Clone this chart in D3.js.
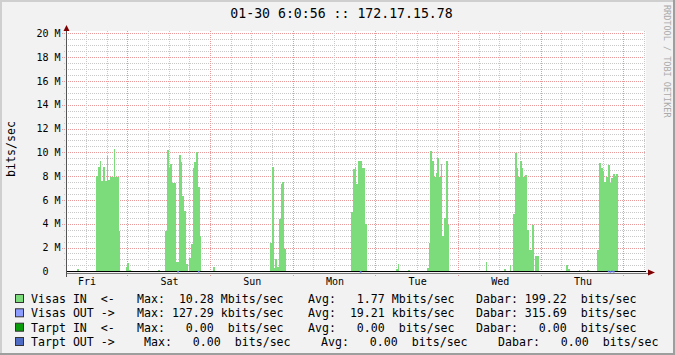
<!DOCTYPE html>
<html>
<head>
<meta charset="utf-8">
<script src="https://cdn.jsdelivr.net/npm/d3@7"></script>
<style>
  body { margin: 0; background: #f2f2f2; }
  text { font-family: "DejaVu Sans Mono", monospace; fill: #000; }
</style>
</head>
<body>
<div id="graph"></div>
<script>
// traffic in Mbit/s, one value per 30 minutes, each row = one day starting Fri 06:30
var visasIn = [
  0,0,0,0,0,0,.2,0,0,0,0,0,0,0,0,0,0,8.0,8.8,9.3,7.6,8.8,7.6,9.7,7.7,7.9,7.9,10.3,7.9,7.9,3.4,0,0,0,.35,.7,.1,0,0,0,0,0,0,0,0,0,0,0,
  0,0,0,0,0,.15,0,0,0,3.4,10.2,8.7,9.0,7.4,7.4,.75,.75,9.8,9.15,6.3,5.1,.6,0,1.1,2.3,8.7,9.15,10.0,7.1,3.0,0,0,0,0,0,0,0,.4,0,0,0,0,0,0,0,0,0,0,
  0,0,0,0,0,0,0,0,0,0,0,0,0,0,0,0,0,0,0,0,0,0,2.4,8.8,.3,1.0,.4,4.4,7.3,7.5,1.9,0,0,0,0,0,0,0,0,0,0,0,0,0,0,0,0,0,
  0,0,0,0,0,0,0,0,0,0,0,0,0,0,0,0,0,0,0,0,0,5.0,8.6,8.8,7.3,9.3,9.3,8.7,8.7,3.95,0,0,0,0,0,0,0,0,0,0,0,0,0,0,0,0,0,.2,
  .6,0,0,0,0,0,.15,0,0,0,0,0,0,0,0,0,0,.25,2.4,10.1,9.3,7.9,8.3,9.5,7.9,9.05,3.0,4.45,9.3,3.9,0,0,0,0,0,0,0,0,0,0,0,0,0,0,0,0,0,0,
  0,0,0,.76,0,0,0,0,0,0,0,0,0,0,.2,0,0,.5,0,4.8,9.95,8.66,7.93,9.27,8.66,7.93,8.1,3.5,1.76,1.8,3.9,0,1.26,1.26,0,0,0,0,0,0,0,0,0,0,0,0,0,0,
  0,0,.5,.2,0,0,0,0,0,.1,0,0,0,0,.1,0,0,0,0,0,1.8,9.1,8.7,8.4,7.5,7.9,8.9,7.4,7.85,8.2,8.0,8.2,0,0,0,0,0,0,0,0,0,0,0,0,0,0,0,0
];
// outgoing is tiny, only the few half hours where it shows
var outBins = [64, 76, 170, 314, 315, 316, 317];
var outKbps = [100, 110, 90, 127, 100, 120, 110];

var dayLabels = ["Fri", "Sat", "Sun", "Mon", "Tue", "Wed", "Thu"];
var yTicks = [0, 2, 4, 6, 8, 10, 12, 14, 16, 18, 20];
var yLabels = ["0  ", "2 M", "4 M", "6 M", "8 M", "10 M", "12 M", "14 M", "16 M", "18 M", "20 M"];

var title = "01-30 6:0:56 :: 172.17.15.78";
var legendNames = ["Visas IN  <-", "Visas OUT ->", "Tarpt IN  <-", "Tarpt OUT ->"];
var legendColors = ["#7cdc7c", "#8c9cff", "#0a9c0a", "#4f6cc4"];
var legendMax = [10.28, 127.29, 0, 0];
var legendMaxUnit = ["M", "k", " ", " "];
var legendAvg = [1.77, 19.21, 0, 0];
var legendAvgUnit = ["M", "k", " ", " "];
var legendNow = [199.22, 315.69, 0, 0];
var legendNowUnit = [" ", " ", " ", " "];

var W = 675, H = 355;
var start = new Date(2009, 0, 23, 6, 30), end = new Date(2009, 0, 30, 6, 30);

var x = d3.scaleTime().domain([start, end]).range([67, 645.7]);
var y = d3.scaleLinear().domain([0, 20]).range([271.3, 33.3]);
var px = function(v){ return Math.round(v) + 0.5; };

var svg = d3.select("#graph").append("svg")
    .attr("width", W).attr("height", H);

// frame
svg.append("rect").attr("width", W).attr("height", H).attr("fill", "#f2f2f2");
svg.append("path").attr("d", "M0,1H675M1,0V355").attr("stroke", "#cfcfcf").attr("stroke-width", 2);
svg.append("path").attr("d", "M0,354H675M674,0V355").attr("stroke", "#9e9e9e").attr("stroke-width", 2);

// canvas
svg.append("rect")
    .attr("x", 67).attr("y", 31)
    .attr("width", x.range()[1] - 67).attr("height", 241)
    .attr("fill", "#fff");

var grid = svg.append("g").attr("shape-rendering", "crispEdges")
    .attr("stroke-width", 1).attr("stroke-dasharray", "1,1");

// horizontal grid
var hMinor = d3.range(0, 20.01, 0.5).filter(function(v){ return v % 2 != 0; });
grid.selectAll("line.hmin").data(hMinor).enter().append("line")
    .attr("x1", 64).attr("x2", 646)
    .attr("y1", function(d){ return px(y(d)); }).attr("y2", function(d){ return px(y(d)); })
    .attr("stroke", "#c8c8c8");
grid.selectAll("line.hmaj").data(yTicks.slice(1)).enter().append("line")
    .attr("x1", 62).attr("x2", 646)
    .attr("y1", function(d){ return px(y(d)); }).attr("y2", function(d){ return px(y(d)); })
    .attr("stroke", "#e89a9a");

// vertical grid, 6h minor, midnight major
var vMinor = d3.timeHour.every(6).range(start, end).filter(function(t){ return t.getHours() != 0; });
var vMajor = d3.timeDay.range(start, end);
grid.selectAll("line.vmin").data(vMinor).enter().append("line")
    .attr("x1", function(d){ return px(x(d)); }).attr("x2", function(d){ return px(x(d)); })
    .attr("y1", 31).attr("y2", 274)
    .attr("stroke", "#c8c8c8");
grid.selectAll("line.vmaj").data(vMajor).enter().append("line")
    .attr("x1", function(d){ return px(x(d)); }).attr("x2", function(d){ return px(x(d)); })
    .attr("y1", 31).attr("y2", 276)
    .attr("stroke", "#e89a9a");

// Visas IN area
var inData = visasIn.map(function(v, i){ return {t: d3.timeMinute.offset(start, 30 * i), v: v}; });
inData.push({t: end, v: 0});
var area = d3.area()
    .curve(d3.curveStepAfter)
    .x(function(d){ return x(d.t); })
    .y0(y(0))
    .y1(function(d){ return y(d.v); });
svg.append("path").datum(inData)
    .attr("d", area)
    .attr("fill", legendColors[0])
    .attr("shape-rendering", "crispEdges");

// zero line
svg.append("line")
    .attr("x1", 67).attr("x2", 646)
    .attr("y1", 271.5).attr("y2", 271.5)
    .attr("stroke", "#000").attr("stroke-width", 1.2);

// Visas OUT, shows just under the zero line
svg.selectAll("line.out").data(outBins).enter().append("line")
    .attr("x1", function(d){ return x(d3.timeMinute.offset(start, 30 * d)); })
    .attr("x2", function(d){ return x(d3.timeMinute.offset(start, 30 * (d + 1))); })
    .attr("y1", function(d, i){ return y(outKbps[i] / 1000) + 1.7; })
    .attr("y2", function(d, i){ return y(outKbps[i] / 1000) + 1.7; })
    .attr("stroke", "#5b6fdc").attr("stroke-width", 1.6);

// axes
svg.append("line").attr("x1", 66).attr("x2", 648).attr("y1", 273.5).attr("y2", 273.5)
    .attr("stroke", "#777").attr("stroke-width", 1);
svg.append("line").attr("x1", 66.5).attr("x2", 66.5).attr("y1", 277).attr("y2", 29)
    .attr("stroke", "#555").attr("stroke-width", 1);
svg.append("path").attr("d", "M648,269.5L655,272.5L648,275.5Z").attr("fill", "#7f0000");
svg.append("path").attr("d", "M63.5,31L66.5,25L69.5,31Z").attr("fill", "#7f0000");

// y labels
svg.selectAll("text.ylab").data(yTicks).enter().append("text")
    .attr("x", 60.5)
    .attr("y", function(d){ return y(d) + 3.6; })
    .attr("text-anchor", "end")
    .attr("font-size", "10px")
    .attr("xml:space", "preserve")
    .style("white-space", "pre")
    .text(function(d, i){ return yLabels[i]; });

// day labels at noon
svg.selectAll("text.xlab").data(dayLabels).enter().append("text")
    .attr("x", function(d, i){ return x(d3.timeHour.offset(d3.timeDay.floor(start), 12 + 24 * i)) + 1; })
    .attr("y", 285)
    .attr("text-anchor", "middle")
    .attr("font-size", "10px")
    .text(function(d){ return d; });

// title and side texts
svg.append("text").attr("x", 341.5).attr("y", 18.3)
    .attr("text-anchor", "middle").attr("font-size", "13.2px")
    .text(title);
svg.append("text").attr("transform", "translate(15,149)rotate(-90)")
    .attr("text-anchor", "middle").attr("font-size", "11.6px")
    .text("bits/sec");
svg.append("text").attr("transform", "translate(663.5,5)rotate(90)")
    .attr("font-size", "8.5px").style("fill", "#aaa")
    .text("RRDTOOL / TOBI OETIKER");

// legend
var rowY = [303, 317.3, 331.7, 346];
var maxX = [137, 137, 137, 144], avgX = [308, 308, 308, 321], nowX = [476, 476, 476, 498];
var f = d3.format(">6.2f");
var unit = function(u){ return (u == " " ? " " : u) + "bits/sec"; };

var leg = svg.append("g").style("white-space", "pre");
legendNames.forEach(function(name, i){
  leg.append("rect")
      .attr("x", 15.5).attr("y", rowY[i] - 8.5)
      .attr("width", 8).attr("height", 8)
      .attr("fill", legendColors[i]).attr("stroke", "#333");
  var add = function(xx, s){
    leg.append("text").attr("x", xx).attr("y", rowY[i])
        .attr("font-size", "11.6px").attr("xml:space", "preserve").text(s);
  };
  add(31, name);
  add(maxX[i], "Max: " + f(legendMax[i]) + " " + unit(legendMaxUnit[i]));
  add(avgX[i], "Avg: " + f(legendAvg[i]) + " " + unit(legendAvgUnit[i]));
  add(nowX[i], "Dabar: " + f(legendNow[i]) + " " + unit(legendNowUnit[i]));
});
</script>
</body>
</html>
